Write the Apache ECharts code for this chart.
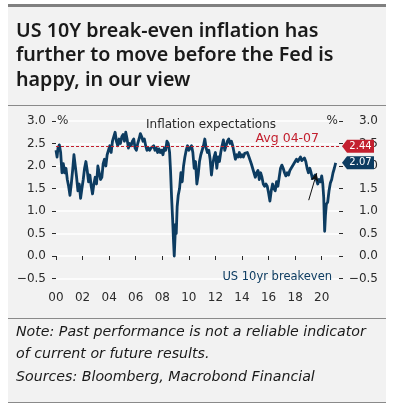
<!DOCTYPE html>
<html><head><meta charset="utf-8">
<script src="https://cdn.jsdelivr.net/npm/echarts@6/dist/echarts.min.js"></script>
<style>html,body{margin:0;padding:0;background:#fff}#c{width:395px;height:412px}</style>
</head><body><div id="c"></div>
<script>
// ---- data ----
var titleLines = ['US 10Y break-even inflation has', 'further to move before the Fed is', 'happy, in our view'];
var noteLines = ['Note: Past performance is not a reliable indicator', 'of current or future results.', 'Sources: Bloomberg, Macrobond Financial'];
var chartTitle = 'Inflation expectations';
var seriesName = 'US 10yr breakeven';
var avgLabel = 'Avg 04-07';
var avgValue = 2.44;
var yTicks = [-0.5, 0.0, 0.5, 1.0, 1.5, 2.0, 2.5, 3.0];
var xTickYears = [2000, 2002, 2004, 2006, 2008, 2010, 2012, 2014, 2016, 2018, 2020];
var dates = [
2000.00,2000.08,2000.15,2000.25,2000.35,2000.45,2000.55,2000.65,2000.75,2000.85,2000.95,
2001.05,2001.15,2001.25,2001.35,2001.45,2001.55,2001.65,2001.75,2001.85,2001.95,
2002.05,2002.15,2002.25,2002.35,2002.45,2002.55,2002.65,2002.75,2002.85,2002.95,
2003.05,2003.15,2003.25,2003.35,2003.45,2003.55,2003.65,2003.75,2003.85,2003.95,
2004.05,2004.15,2004.25,2004.35,2004.45,2004.55,2004.65,2004.75,2004.85,2004.95,
2005.05,2005.15,2005.25,2005.35,2005.45,2005.55,2005.65,2005.75,2005.85,2005.95,
2006.05,2006.15,2006.25,2006.35,2006.45,2006.55,2006.65,2006.75,2006.85,2006.95,
2007.05,2007.15,2007.25,2007.35,2007.45,2007.55,2007.65,2007.75,2007.85,2007.95,
2008.05,2008.15,2008.25,2008.35,2008.45,2008.55,2008.62,2008.70,2008.78,2008.85,2008.90,2008.95,
2009.00,2009.05,2009.12,2009.20,2009.30,2009.40,2009.50,2009.60,2009.70,2009.80,2009.90,
2010.00,2010.10,2010.20,2010.30,2010.40,2010.50,2010.60,2010.70,2010.80,2010.90,
2011.00,2011.10,2011.20,2011.30,2011.40,2011.50,2011.60,2011.70,2011.80,2011.90,
2012.00,2012.10,2012.20,2012.30,2012.40,2012.50,2012.60,2012.70,2012.80,2012.90,
2013.00,2013.10,2013.20,2013.30,2013.40,2013.50,2013.60,2013.70,2013.80,2013.90,
2014.00,2014.10,2014.20,2014.30,2014.40,2014.50,2014.60,2014.70,2014.80,2014.90,
2015.00,2015.10,2015.20,2015.30,2015.40,2015.50,2015.60,2015.70,2015.80,2015.90,
2016.00,2016.10,2016.20,2016.30,2016.40,2016.50,2016.60,2016.70,2016.80,2016.90,
2017.00,2017.10,2017.20,2017.30,2017.40,2017.50,2017.60,2017.70,2017.80,2017.90,
2018.00,2018.10,2018.20,2018.30,2018.40,2018.50,2018.60,2018.70,2018.80,2018.90,
2019.00,2019.10,2019.20,2019.30,2019.40,2019.50,2019.60,2019.70,2019.80,2019.90,
2020.00,2020.08,2020.15,2020.22,2020.28,2020.35,2020.45,2020.55,2020.65,2020.75,2020.85,2020.95,2021.05
];
var breakeven = [
2.35,2.20,2.40,2.47,2.30,1.85,2.05,1.85,1.95,1.70,1.55,
1.35,1.60,1.90,2.25,2.00,1.75,1.45,1.60,1.28,1.50,
1.70,1.95,2.10,1.90,1.65,1.80,1.55,1.38,1.60,1.75,
1.60,2.00,1.85,1.70,1.75,2.05,2.15,2.00,2.25,2.35,
2.45,2.30,2.55,2.65,2.75,2.55,2.45,2.60,2.50,2.65,
2.70,2.55,2.75,2.60,2.40,2.50,2.45,2.55,2.60,2.40,
2.35,2.50,2.60,2.72,2.65,2.55,2.60,2.45,2.35,2.40,
2.35,2.40,2.38,2.45,2.35,2.40,2.30,2.38,2.30,2.35,
2.25,2.40,2.35,2.55,2.50,2.30,1.90,1.30,0.80,0.30,0.00,0.35,
0.70,0.50,1.10,1.35,1.50,1.85,1.65,2.00,2.20,2.35,2.45,
2.35,2.40,2.45,2.30,1.95,2.10,1.60,1.80,2.10,2.25,
2.35,2.45,2.60,2.40,2.30,2.35,2.15,1.80,2.05,2.20,
2.30,1.95,2.20,2.10,2.30,2.45,2.58,2.35,2.45,2.55,
2.60,2.50,2.55,2.45,2.30,2.15,2.25,2.20,2.30,2.20,
2.25,2.20,2.28,2.25,2.30,2.22,2.20,2.05,1.95,1.85,
1.75,1.85,1.90,1.70,1.85,1.75,1.60,1.55,1.60,1.55,
1.40,1.22,1.45,1.60,1.50,1.45,1.65,1.55,1.75,1.95,
2.02,1.95,1.85,1.78,1.85,1.80,1.90,1.95,2.00,2.05,
2.10,2.15,2.10,2.15,2.20,2.12,2.15,2.18,2.10,1.95,
1.85,1.95,1.85,1.72,1.75,1.80,1.70,1.60,1.70,1.65,
1.78,1.60,1.30,0.55,0.90,1.15,1.20,1.45,1.62,1.70,1.85,1.95,2.07
];
var arrowFrom = [2019.02, 1.24];
var arrowTo = [2019.62, 1.84];

// ---- styles ----
var NAVY = '#0d3c61', RED = '#c3202f', TXT = '#2b2b2b';
var FONT = 'DejaVu Sans';
var xMin = 2000, xMax = 2021.3;
var lastValue = breakeven[breakeven.length - 1];
var tagPath = 'path://M0,6.5 L5,0 L32,0 L32,13 L5,13 Z';

var chart = echarts.init(document.getElementById('c'), null, {renderer: 'canvas'});
var graphics = [
  {type: 'rect', shape: {x: 8, y: 4, width: 378, height: 398}, style: {fill: '#f2f2f2'}, z: -10, silent: true},
  {type: 'rect', shape: {x: 8, y: 4, width: 378, height: 3}, style: {fill: '#808080'}, z: -9},
  {type: 'line', shape: {x1: 8, y1: 105.5, x2: 386, y2: 105.5}, style: {stroke: '#8a8a8a', lineWidth: 1}, z: -9},
  {type: 'line', shape: {x1: 8, y1: 318.5, x2: 386, y2: 318.5}, style: {stroke: '#8a8a8a', lineWidth: 1}, z: -9},
  {type: 'line', shape: {x1: 8, y1: 402.5, x2: 386, y2: 402.5}, style: {stroke: '#8a8a8a', lineWidth: 1}, z: -9}
];
titleLines.forEach(function (t, i) {
  graphics.push({type: 'text', left: 16, top: 21 + i * 24.5,
    style: {text: t, fill: '#1a1a1a', font: '600 19.7px "Noto Sans"'}});
});
noteLines.forEach(function (t, i) {
  graphics.push({type: 'text', left: 16, top: 325 + i * 22.5,
    style: {text: t, fill: '#1a1a1a', font: 'italic 14.2px "DejaVu Sans"'}});
});

var yAxisCommon = {
  type: 'value', min: yTicks[0], max: yTicks[yTicks.length - 1], interval: 0.5,
  axisLine: {show: false},
  axisTick: {show: true, length: 4, lineStyle: {color: TXT}},
  axisLabel: {color: TXT, fontFamily: FONT, fontSize: 12, formatter: function (v) { return v.toFixed(1).replace('-', '\u2212'); }}
};

chart.setOption({
  animation: false,
  backgroundColor: '#ffffff',
  graphic: graphics,
  title: {text: chartTitle, left: 206, top: 114, textAlign: 'center',
    textStyle: {fontFamily: FONT, fontSize: 12, fontWeight: 'normal', color: TXT}},
  legend: {data: [seriesName], right: 58, top: 266, icon: 'none', itemWidth: 0, itemHeight: 0, itemGap: 0,
    textStyle: {color: NAVY, fontFamily: FONT, fontSize: 11.5}, selectedMode: false},
  grid: {left: 56, right: 56, top: 121, bottom: 133.5},
  xAxis: {
    type: 'value', min: xMin, max: xMax, interval: 2, offset: 7,
    axisLine: {show: false}, splitLine: {show: false},
    axisTick: {show: true, length: 4, lineStyle: {color: TXT}},
    axisLabel: {color: TXT, fontFamily: FONT, fontSize: 12, margin: 6, showMaxLabel: false,
      formatter: function (v) { return xTickYears.indexOf(v) >= 0 ? String(v % 100).padStart(2, '0') : ''; }}
  },
  yAxis: [
    Object.assign({}, yAxisCommon, {position: 'left', name: '%', nameLocation: 'end', nameGap: 0,
      nameTextStyle: {color: TXT, fontFamily: FONT, fontSize: 12, align: 'left', verticalAlign: 'middle', padding: [0, 0, 0, 1]},
      axisLabel: Object.assign({}, yAxisCommon.axisLabel, {margin: 10}),
      splitLine: {show: true, lineStyle: {color: '#ffffff', width: 1.5}}}),
    Object.assign({}, yAxisCommon, {position: 'right', name: '%', nameLocation: 'end', nameGap: 0,
      nameTextStyle: {color: TXT, fontFamily: FONT, fontSize: 12, align: 'right', verticalAlign: 'middle', padding: [0, 1, 0, 0]},
      axisLabel: Object.assign({}, yAxisCommon.axisLabel, {margin: 39, align: 'right'}),
      splitLine: {show: false}})
  ],
  series: [{
    name: seriesName, type: 'line', yAxisIndex: 0, symbol: 'none', z: 3,
    data: dates.map(function (d, i) { return [d, breakeven[i]]; }),
    lineStyle: {color: NAVY, width: 2.8, join: 'round'},
    itemStyle: {color: NAVY},
    markLine: {
      silent: true, symbol: 'none', animation: false,
      data: [
        {yAxis: avgValue, lineStyle: {color: RED, type: [3, 2], width: 1},
          label: {show: true, position: 'insideEndTop', formatter: avgLabel, color: RED, fontFamily: FONT, fontSize: 12.5, distance: [20, 1]}},
        [{coord: arrowFrom, symbol: 'none', lineStyle: {color: '#111', width: 1, type: 'solid'}, label: {show: false}},
         {coord: arrowTo, symbol: 'arrow', symbolSize: [6, 8]}]
      ]
    },
    markPoint: {
      silent: true, animation: false,
      data: [
        {coord: [xMax, avgValue], symbol: tagPath, symbolSize: [32, 13], symbolOffset: [19, 0], symbolKeepAspect: false,
          itemStyle: {color: RED},
          label: {show: true, position: 'inside', offset: [2.5, 0], formatter: avgValue.toFixed(2), color: '#fff', fontFamily: FONT, fontSize: 10}},
        {coord: [xMax, lastValue], symbol: tagPath, symbolSize: [32, 13], symbolOffset: [19, 0], symbolKeepAspect: false,
          itemStyle: {color: NAVY},
          label: {show: true, position: 'inside', offset: [2.5, 0], formatter: lastValue.toFixed(2), color: '#fff', fontFamily: FONT, fontSize: 10}}
      ]
    }
  }]
});
</script></body></html>
